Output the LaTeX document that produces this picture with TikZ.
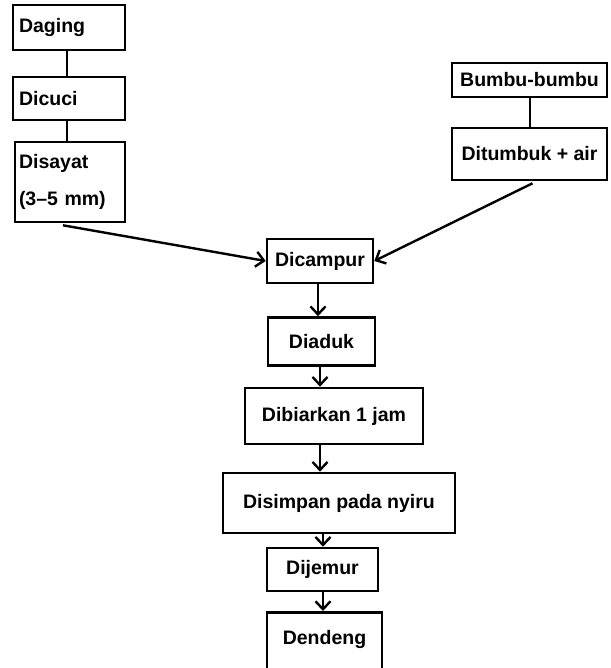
\documentclass[tikz,border=0pt]{standalone}
\usepackage{fontspec}
\setmainfont{Liberation Sans}
\usetikzlibrary{arrows.meta,calc}
\begin{document}
\begin{tikzpicture}[x=1pt,y=-1pt,
  box/.style={draw,line width=2.6pt,inner sep=0pt,font=\fontsize{19.5}{23}\selectfont\bfseries},
  lbox/.style={box,align=left},
  link/.style={line width=2.4pt},
  flow/.style={line width=2.4pt,-{Straight Barb[length=8pt,width=15pt,line width=2.4pt]}}]
\useasboundingbox (0,0) rectangle (610,668);
% left column
\node[lbox,minimum width=112pt,minimum height=45pt,text width=100pt] (daging) at (69,27.5) {Daging};
\node[lbox,minimum width=112pt,minimum height=43pt,text width=100pt] (dicuci) at (69,98.5) {Dicuci};
\node[lbox,minimum width=110pt,minimum height=80pt,text width=102pt] (disayat) at (70,182) {Disayat\\[14pt](3–5 mm)};
% right column
\node[box,minimum width=155pt,minimum height=34pt] (bumbu) at (529.5,80) {Bumbu-bumbu};
\node[box,minimum width=155pt,minimum height=52pt] (ditumbuk) at (529.5,154) {Ditumbuk + air};
% main column
\node[box,minimum width=106pt,minimum height=44pt] (dicampur) at (320,261) {Dicampur};
\node[box,minimum width=107pt,minimum height=48pt] (diaduk) at (321.5,341.5) {Diaduk};
\node[box,minimum width=178pt,minimum height=56pt] (dibiarkan) at (334,416) {Dibiarkan 1 jam};
\node[box,minimum width=232pt,minimum height=60pt] (disimpan) at (339,503) {Disimpan pada nyiru};
\node[box,minimum width=111pt,minimum height=43pt] (dijemur) at (322.5,569.5) {Dijemur};
\node[box,minimum width=115pt,minimum height=76pt,anchor=north] (dendeng) at (324.5,611) {};
\node[font=\fontsize{19.5}{23}\selectfont\bfseries] (dendengtext) at (324.5,639) {Dendeng};
% connectors
\draw[link] (daging.south -| 67,0) -- (dicuci.north -| 67,0);
\draw[link] (dicuci.south -| 67,0) -- (disayat.north -| 67,0);
\draw[link] (bumbu.south -| 530,0) -- (ditumbuk.north -| 530,0);
\coordinate (s1) at ($(disayat.south)+(-7,2)$);
\coordinate (s2) at ($(ditumbuk.south)+(3,2)$);
\draw[flow] (s1) -- (dicampur.west);
\draw[flow] (s2) -- (dicampur.east);
\draw[flow] (dicampur.south -| 318,0) -- (diaduk.north -| 318,0);
\draw[flow] (diaduk.south -| 320,0) -- (dibiarkan.north -| 320,0);
\draw[flow] (dibiarkan.south -| 320,0) -- (disimpan.north -| 320,0);
\draw[flow] (disimpan.south -| 323,0) -- (dijemur.north -| 323,0);
\draw[flow] (dijemur.south -| 323,0) -- (dendeng.north -| 323,0);
\end{tikzpicture}
\end{document}
